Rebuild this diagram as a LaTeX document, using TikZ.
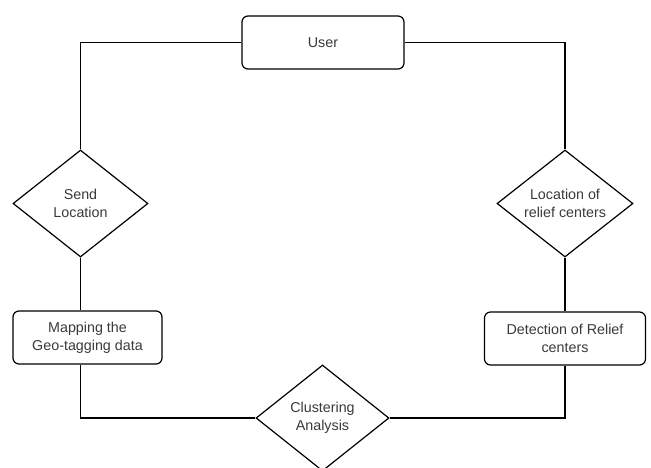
\documentclass[tikz,border=0pt]{standalone}
\usepackage{fontspec}
\setmainfont{Liberation Sans}
\usetikzlibrary{shapes.geometric}
\definecolor{texto}{HTML}{3A3A3A}
\begin{document}
\begin{tikzpicture}[x=1pt,y=-1pt,
	caja/.style={draw,rounded corners=6pt,line width=1.2pt,inner sep=0pt,text=texto,align=center,font=\fontsize{14.3}{18}\selectfont},
	rombo/.style={draw,diamond,line width=1.2pt,inner sep=0pt,aspect=1.27,text=texto,align=center,font=\fontsize{14.3}{18}\selectfont},
	linea/.style={line width=1.2pt}]
			% Marco
			\clip (0,0) rectangle (651,467);
			\fill[white] (0,0) rectangle (651,467);

			% Nodos
			\node[caja,minimum width=162pt,minimum height=53pt] (user) at (323,42.5) {User};
			\node[rombo,minimum width=135pt,minimum height=107pt] (send) at (80.5,203.5) {Send\\Location};
			\node[caja,minimum width=149pt,minimum height=53pt] (map) at (87.5,337.5) {Mapping the\\Geo-tagging data};
			\node[rombo,minimum width=133pt,minimum height=106pt] (clus) at (322.5,418) {Clustering\\Analysis};
			\node[caja,minimum width=161pt,minimum height=53pt] (det) at (565,338.5) {Detection of Relief\\centers};
			\node[rombo,minimum width=136pt,minimum height=107pt] (loc) at (565,203.5) {Location of\\relief centers};

			% Conexiones
			\draw[linea] (user.west) -| (send.north);
			\draw[linea] (send.south) -- (send.south |- map.north);
			\draw[linea] (send.south |- map.south) |- (clus.west);
			\draw[linea] (clus.east) -| (det.south);
			\draw[linea] (det.north) -- (loc.south);
			\draw[linea] (loc.north) |- (user.east);

		    \end{tikzpicture}
\end{document}
